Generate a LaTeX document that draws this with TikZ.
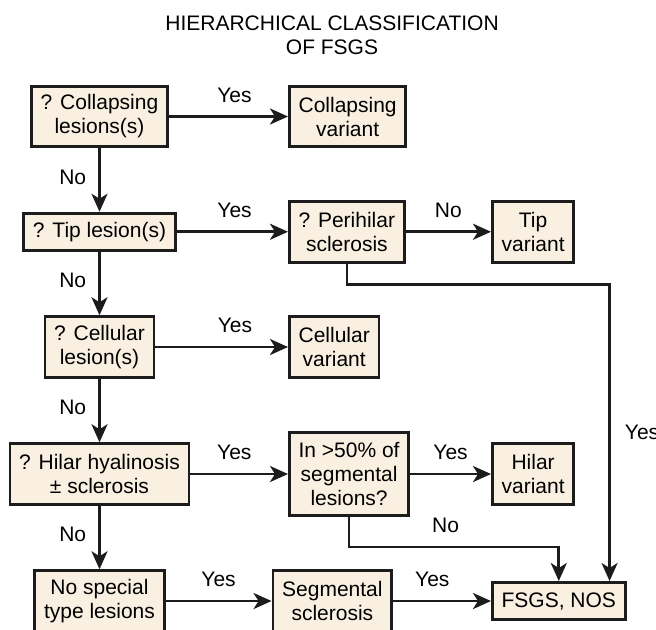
\documentclass[tikz,border=0pt]{standalone}
\usepackage{fontspec}
\setsansfont{Liberation Sans}
\usetikzlibrary{positioning, arrows.meta}
\definecolor{creambox}{HTML}{F9F0E2}
\definecolor{inkline}{HTML}{1C1C1C}

\begin{document}
\begin{tikzpicture}[
  x=0.5pt, y=-0.5pt,
  font=\sffamily\fontsize{10.5pt}{12pt}\selectfont,
  node distance=31.75pt,
  box/.style={
    draw=inkline, fill=creambox, line width=1.4pt,
    inner xsep=4.6pt, inner ysep=2pt, align=center, minimum height=30.35pt
  },
  onebox/.style={box, minimum height=18.6pt},
  threebox/.style={box, minimum height=41.6pt},
  arrow/.style={-{Stealth[length=9pt, width=8pt, inset=2.5pt]}, line width=1.35pt, draw=inkline},
  arrowlabel/.style={inner sep=1pt, text depth=0pt},
]

\useasboundingbox (0,0) rectangle (656,629);

\node[align=center] (title) at (332,35) {HIERARCHICAL CLASSIFICATION\\OF FSGS};

\coordinate (colb) at (288,0);
\coordinate (colc) at (491,0);

% questions, left column
\node[box] (collq) at (99.5,116.5) {? Collapsing\\lesions(s)};
\node[onebox, below=of collq] (tipq) {? Tip lesion(s)};
\node[box, below=of tipq] (cellq) {? Cellular\\lesion(s)};
\node[box, below=of cellq] (hilq) {? Hilar hyalinosis\\± sclerosis};
\node[box, below=of hilq] (nospec) {No special\\type lesions};

% second column
\node[box, anchor=west] (collv) at (collq -| colb) {Collapsing\\variant};
\node[box, anchor=west] (perq) at (tipq -| colb) {? Perihilar\\sclerosis};
\node[box, anchor=west] (cellv) at (cellq -| colb) {Cellular\\variant};
\node[threebox, anchor=west] (pctq) at (hilq -| colb) {In >50\% of\\segmental\\lesions?};
\node[box, right=53pt of nospec] (segscl) {Segmental\\sclerosis};

% third column
\node[box, anchor=west] (tipv) at (perq -| colc) {Tip\\variant};
\node[box, anchor=west] (hilv) at (pctq -| colc) {Hilar\\variant};
\node[onebox, anchor=west] (nos) at (nospec -| colc) {FSGS, NOS};
\coordinate (nosin) at ([xshift=-8.5pt]nos.north east);

\draw[arrow] (collq) -- node[arrowlabel, above=5.5pt, pos=0.55] {Yes} (collv);
\draw[arrow] (collq) -- node[arrowlabel, left=5pt, pos=0.45] {No} (tipq);
\draw[arrow] (tipq) -- node[arrowlabel, above=5.5pt, pos=0.52] {Yes} (perq);
\draw[arrow] (perq) -- node[arrowlabel, above=5.5pt] {No} (tipv);
\draw[arrow] (perq.south) -- ++(0,21) -| node[arrowlabel, right=6pt, pos=0.75] {Yes} (nosin);
\draw[arrow] (tipq) -- node[arrowlabel, left=5pt, pos=0.45] {No} (cellq);
\draw[arrow] (cellq) -- node[arrowlabel, above=5.5pt, pos=0.6] {Yes} (cellv);
\draw[arrow] (cellq) -- node[arrowlabel, left=5pt, pos=0.45] {No} (hilq);
\draw[arrow] (hilq) -- node[arrowlabel, above=5.5pt, pos=0.45] {Yes} (pctq);
\draw[arrow] (pctq) -- node[arrowlabel, above=5.5pt] {Yes} (hilv);
\draw[arrow] (pctq.south) -- ++(0,30) -| node[arrowlabel, above=5.5pt, pos=0.23] {No} (nos.north);
\draw[arrow] (hilq) -- node[arrowlabel, left=5pt, pos=0.45] {No} (nospec);
\draw[arrow] (nospec) -- node[arrowlabel, above=5.5pt] {Yes} (segscl);
\draw[arrow] (segscl) -- node[arrowlabel, above=5.5pt, pos=0.4] {Yes} (nos);

\end{tikzpicture}
\end{document}
